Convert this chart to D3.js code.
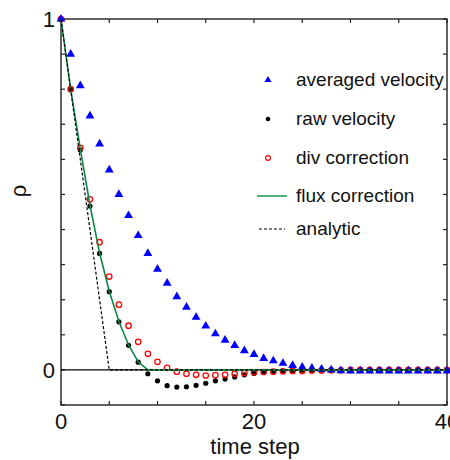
<!DOCTYPE html>
<html>
<head>
<meta charset="utf-8">
<script src="https://cdn.jsdelivr.net/npm/d3@7"></script>
<style>
  html, body { margin: 0; padding: 0; background: #fff; }
  svg { display: block; font-family: "Liberation Sans", Arial, Helvetica, sans-serif; }
</style>
</head>
<body>
<svg id="chart" width="450" height="460"></svg>
<script>
// ---- data ----
const timeSteps = d3.range(0, 41);
const averagedVelocity = [1.0, 0.90, 0.81, 0.724, 0.644, 0.570, 0.500, 0.440, 0.383, 0.332,
  0.287, 0.247, 0.209, 0.179, 0.150, 0.125, 0.103, 0.085, 0.070, 0.055,
  0.044, 0.033, 0.026, 0.019, 0.013, 0.008, 0.005, 0.002, 0.0, -0.002,
  -0.003, -0.003, -0.003, -0.003, -0.003, -0.003, -0.003, -0.003, -0.003, -0.003, -0.003];
const rawVelocity = [1.0, 0.80, 0.627, 0.467, 0.332, 0.223, 0.137, 0.070, 0.022, -0.011,
  -0.031, -0.045, -0.049, -0.048, -0.044, -0.038, -0.031, -0.026, -0.020, -0.014,
  -0.010, -0.007, -0.005, -0.003, -0.002, -0.001, -0.001, 0, 0, 0,
  0, 0, 0, 0, 0, 0, 0, 0, 0, 0, 0];
const divCorrection = [1.0, 0.80, 0.633, 0.486, 0.364, 0.266, 0.186, 0.126, 0.080, 0.046,
  0.023, 0.006, -0.005, -0.011, -0.014, -0.016, -0.015, -0.014, -0.011, -0.009,
  -0.007, -0.006, -0.005, -0.004, -0.003, -0.003, -0.002, -0.002, -0.001, -0.001,
  0, 0, 0, 0, 0, 0, 0, 0, 0, 0, 0];
const fluxCorrection = [1.0, 0.80, 0.63, 0.47, 0.333, 0.224, 0.138, 0.071, 0.023, 0.0,
  0, 0, 0, 0, 0, 0, 0, 0, 0, 0,
  0, 0, 0, 0, 0, 0, 0, 0, 0, 0,
  0, 0, 0, 0, 0, 0, 0, 0, 0, 0, 0];
const analyticT = [0, 5, 40];
const analyticValues = [1, 0, 0];
const xTickLabels = [0, 20, 40];
const yTickLabels = [0, 1];
const legendLabels = ["averaged velocity", "raw velocity", "div correction", "flux correction", "analytic"];

// ---- layout ----
const svg = d3.select("#chart");
const x = d3.scaleLinear().domain([0, 40]).range([61, 447]);
const y = d3.scaleLinear().domain([-0.1, 1]).range([405, 19]);
const COL = { blue: "#0000ff", black: "#000", red: "#ff0000", green: "#0a8a45" };

// frame
svg.append("rect").attr("x", x(0)).attr("y", y(1))
  .attr("width", x(40) - x(0)).attr("height", y(-0.1) - y(1))
  .attr("fill", "none").attr("stroke", "#222").attr("stroke-width", 1.4);

// minor ticks (inward) on all sides
const xt = d3.range(0, 41, 5), yt = d3.range(-0.1, 1.0001, 0.1);
const tk = svg.append("g").attr("stroke", "#222").attr("stroke-width", 1.2);
xt.forEach(t => {
  tk.append("line").attr("x1", x(t)).attr("x2", x(t)).attr("y1", y(-0.1)).attr("y2", y(-0.1) - 4);
  tk.append("line").attr("x1", x(t)).attr("x2", x(t)).attr("y1", y(1)).attr("y2", y(1) + 4);
});
yt.forEach(v => {
  tk.append("line").attr("x1", x(0)).attr("x2", x(0) + 4).attr("y1", y(v)).attr("y2", y(v));
  tk.append("line").attr("x1", x(40)).attr("x2", x(40) - 4).attr("y1", y(v)).attr("y2", y(v));
});

// zero line
svg.append("line").attr("x1", x(0)).attr("x2", x(40)).attr("y1", y(0)).attr("y2", y(0))
  .attr("stroke", "#000").attr("stroke-width", 1.3);

// tick labels
svg.append("g").selectAll("text").data(xTickLabels).join("text")
  .attr("x", d => x(d)).attr("y", 429).attr("text-anchor", "middle")
  .attr("font-size", 22).attr("fill", "#111").text(d => d);
svg.append("g").selectAll("text").data(yTickLabels).join("text")
  .attr("x", 55).attr("y", d => y(d) + 8).attr("text-anchor", "end")
  .attr("font-size", 22).attr("fill", "#111").text(d => d);

// axis titles
svg.append("text").attr("x", 255).attr("y", 454).attr("text-anchor", "middle")
  .attr("font-size", 22).attr("fill", "#111").text("time step");
svg.append("text").attr("transform", "translate(26,191) rotate(-90)")
  .attr("text-anchor", "middle").attr("font-size", 22).attr("fill", "#111").text("ρ");

// series
const pts = vals => timeSteps.map((t, i) => [t, vals[i]]);
svg.append("g").selectAll("circle").data(pts(rawVelocity)).join("circle")
  .attr("cx", d => x(d[0])).attr("cy", d => y(d[1])).attr("r", 2.6).attr("fill", COL.black);
svg.append("g").selectAll("circle").data(pts(divCorrection)).join("circle")
  .attr("cx", d => x(d[0])).attr("cy", d => y(d[1])).attr("r", 2.7)
  .attr("fill", "none").attr("stroke", COL.red).attr("stroke-width", 1.3);
const tri = d3.symbol().type(d3.symbolTriangle).size(34);
svg.append("g").selectAll("path").data(pts(averagedVelocity)).join("path")
  .attr("transform", d => `translate(${x(d[0])},${y(d[1])})`).attr("d", tri()).attr("fill", COL.blue);

const line = d3.line().x(d => x(d[0])).y(d => y(d[1]));
svg.append("path").datum(pts(fluxCorrection)).attr("d", line)
  .attr("fill", "none").attr("stroke", COL.green).attr("stroke-width", 1.6);
svg.append("path").datum(analyticT.map((t, i) => [t, analyticValues[i]])).attr("d", line)
  .attr("fill", "none").attr("stroke", "#000").attr("stroke-width", 1.2).attr("stroke-dasharray", "3,2");

// legend
const lg = svg.append("g");
const rows = [80, 119, 158, 196, 229];
const textY = [86, 125, 164, 202, 235];
lg.append("path").attr("transform", `translate(268,${rows[0]})`)
  .attr("d", d3.symbol().type(d3.symbolTriangle).size(22)()).attr("fill", COL.blue);
lg.append("circle").attr("cx", 268).attr("cy", rows[1]).attr("r", 2.3).attr("fill", COL.black);
lg.append("circle").attr("cx", 268).attr("cy", rows[2]).attr("r", 2.4)
  .attr("fill", "none").attr("stroke", COL.red).attr("stroke-width", 1.2);
lg.append("line").attr("x1", 257).attr("x2", 287).attr("y1", rows[3]).attr("y2", rows[3])
  .attr("stroke", COL.green).attr("stroke-width", 1.4);
lg.append("line").attr("x1", 259).attr("x2", 285).attr("y1", rows[4]).attr("y2", rows[4])
  .attr("stroke", "#000").attr("stroke-width", 1.2).attr("stroke-dasharray", "3,2");
lg.selectAll("text").data(legendLabels).join("text")
  .attr("x", 296).attr("y", (d, i) => textY[i]).attr("font-size", 19).attr("fill", "#111").text(d => d);
</script>
</body>
</html>
